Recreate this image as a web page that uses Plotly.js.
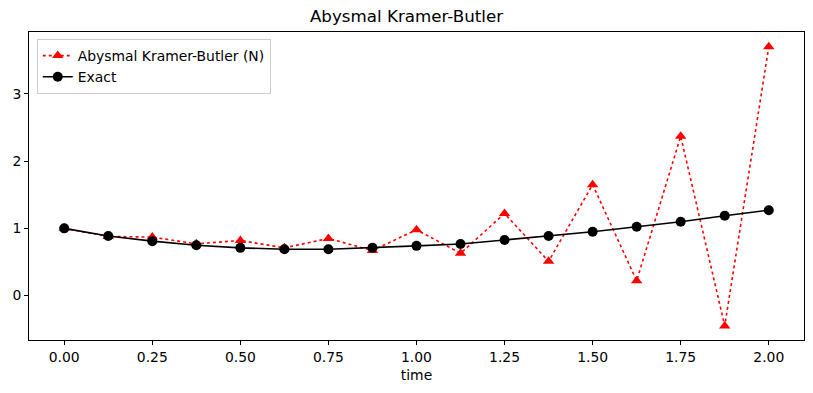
<!DOCTYPE html>
<html>
<head>
<meta charset="utf-8">
<script src="https://cdn.plot.ly/plotly-3.0.1.min.js"></script>
<style>html,body{margin:0;padding:0;background:#fff;}#chart{width:813px;height:393px;}</style>
</head>
<body>
<div id="chart"></div>
<script>
var time = [0, 0.125, 0.25, 0.375, 0.5, 0.625, 0.75, 0.875, 1.0, 1.125, 1.25, 1.375, 1.5, 1.625, 1.75, 1.875, 2.0];
var approxValues = [1.0, 0.88, 0.87, 0.77, 0.82, 0.71, 0.85, 0.67, 0.98, 0.63, 1.22, 0.51, 1.65, 0.22, 2.37, -0.45, 3.70];
var exactValues = [1.0, 0.886, 0.81, 0.75, 0.71, 0.69, 0.69, 0.71, 0.74, 0.767, 0.826, 0.886, 0.95, 1.024, 1.098, 1.187, 1.27];
var approxName = 'Abysmal Kramer-Butler (N)';
var exactName = 'Exact';
var chartTitle = 'Abysmal Kramer-Butler';
var xTitle = 'time';

var font = 'DejaVu Sans, sans-serif';
var traces = [
  {x: time, y: approxValues, name: approxName, type: 'scatter', mode: 'lines+markers',
   line: {color: '#ff0000', width: 1.6, dash: 'dot'},
   marker: {symbol: 'triangle-up', size: 10, color: '#ff0000'}},
  {x: time, y: exactValues, name: exactName, type: 'scatter', mode: 'lines+markers',
   line: {color: '#000000', width: 1.6},
   marker: {symbol: 'circle', size: 10, color: '#000000'}}
];
var layout = {
  width: 813, height: 393,
  margin: {l: 29, r: 9, t: 32, b: 53},
  paper_bgcolor: '#fff', plot_bgcolor: '#fff',
  font: {family: font, size: 13.9, color: '#000'},
  title: {text: chartTitle, font: {family: font, size: 16.7, color: '#000'}, x: 0.5, xanchor: 'center', y: 1, yanchor: 'top', pad: {t: 10}},
  showlegend: true,
  legend: {x: 0.01, y: 0.977, xanchor: 'left', yanchor: 'top', bgcolor: 'rgba(255,255,255,0.8)',
           bordercolor: '#cccccc', borderwidth: 1, font: {family: font, size: 13.9, color: '#000'}},
  xaxis: {range: [-0.1, 2.1], dtick: 0.25, tick0: 0, tickformat: '.2f', showgrid: false, zeroline: false,
          showline: true, mirror: true, linecolor: '#000', linewidth: 1, ticks: 'outside', ticklen: 4, tickcolor: '#000',
          title: {text: xTitle, font: {family: font, size: 13.9, color: '#000'}, standoff: 6}},
  yaxis: {range: [-0.66, 3.92], dtick: 1, tick0: 0, showgrid: false, zeroline: false,
          showline: true, mirror: true, linecolor: '#000', linewidth: 1, ticks: 'outside', ticklen: 4, tickcolor: '#000'}
};
Plotly.newPlot('chart', traces, layout, {displayModeBar: false, staticPlot: true});
</script>
</body>
</html>
